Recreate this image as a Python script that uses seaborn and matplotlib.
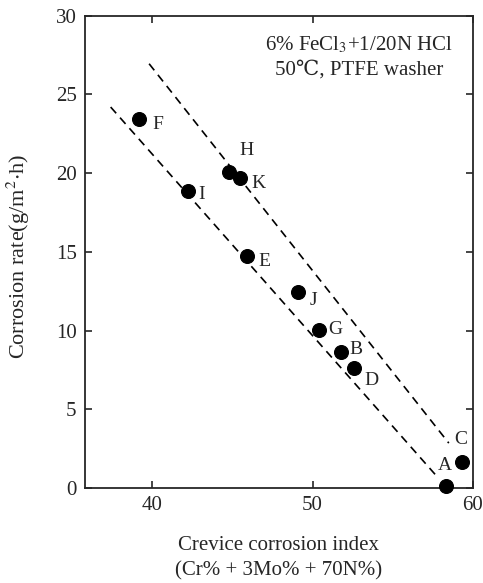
import matplotlib
matplotlib.use("Agg")
import matplotlib.pyplot as plt
import seaborn as sns
import pandas as pd

# steel grades, crevice corrosion index vs corrosion rate
labels = ['F', 'I', 'H', 'K', 'E', 'J', 'G', 'B', 'D', 'A', 'C']
cci = [39.2, 42.2, 44.8, 45.5, 45.9, 49.1, 50.4, 51.8, 52.6, 58.3, 59.3]
rate = [23.45, 18.85, 20.05, 19.7, 14.75, 12.45, 10.05, 8.65, 7.6, 0.1, 1.65]

# the two dashed bounding lines
upper_x = [39.8, 58.5]
upper_y = [26.95, 2.85]
lower_x = [37.4, 57.7]
lower_y = [24.2, 0.8]

# label offsets (in points) so the letters sit like the original
offsets = {'F': (9, -4), 'I': (8, -2), 'H': (7, 16), 'K': (8, -4), 'E': (8, -4),
           'J': (8, -6), 'G': (7, 0), 'B': (6, 2), 'D': (7, -9), 'A': (-0.5, 15),
           'C': (-0.5, 16)}

df = pd.DataFrame({'cci': cci, 'rate': rate, 'label': labels})

sns.set_style('ticks')
plt.rcParams['font.family'] = ['Liberation Serif', 'DejaVu Serif']
plt.rcParams['mathtext.fontset'] = 'stix'

fig = plt.figure(figsize=(4.83, 5.83), dpi=100)
ax = fig.add_axes([0.176, 0.163, 0.803, 0.810])

sns.lineplot(x=upper_x, y=upper_y, ax=ax, color='black', linestyle=(0, (5, 3.5)), linewidth=1.2)
sns.lineplot(x=lower_x, y=lower_y, ax=ax, color='black', linestyle=(0, (5, 3.5)), linewidth=1.2)
sns.scatterplot(data=df, x='cci', y='rate', ax=ax, color='black', s=100, edgecolor='black',
                zorder=3, clip_on=False)

for lab, x, y in zip(labels, cci, rate):
    dx, dy = offsets[lab]
    ha = 'left' if dx > 2 else 'center'
    ax.annotate(lab, (x, y), xytext=(dx, dy), textcoords='offset points',
                fontsize=14, ha=ha, va='center')

ax.set_xlim(35.8, 60)
ax.set_ylim(0, 30)
ax.set_xticks([40, 50, 60])
ax.set_yticks([0, 5, 10, 15, 20, 25, 30])
ax.tick_params(direction='in', length=5, width=1.2, labelsize=15,
               top=True, right=True, pad=6)
for s in ax.spines.values():
    s.set_linewidth(1.3)

ax.set_ylabel('Corrosion rate(g/m$^2$$\\cdot$h)', fontsize=16)
ax.yaxis.set_label_coords(-0.137, 0.49)
ax.set_xlabel('Crevice corrosion index\n(Cr% + 3Mo% + 70N%)', fontsize=15,
              labelpad=15, linespacing=1.45)

ax.text(0.948, 0.96, '6% FeCl$_3$+1/20N HCl\n50℃, PTFE washer', transform=ax.transAxes,
        ha='right', va='top', fontsize=15, linespacing=1.35, multialignment='center')

fig.savefig('out.png', dpi=100)
